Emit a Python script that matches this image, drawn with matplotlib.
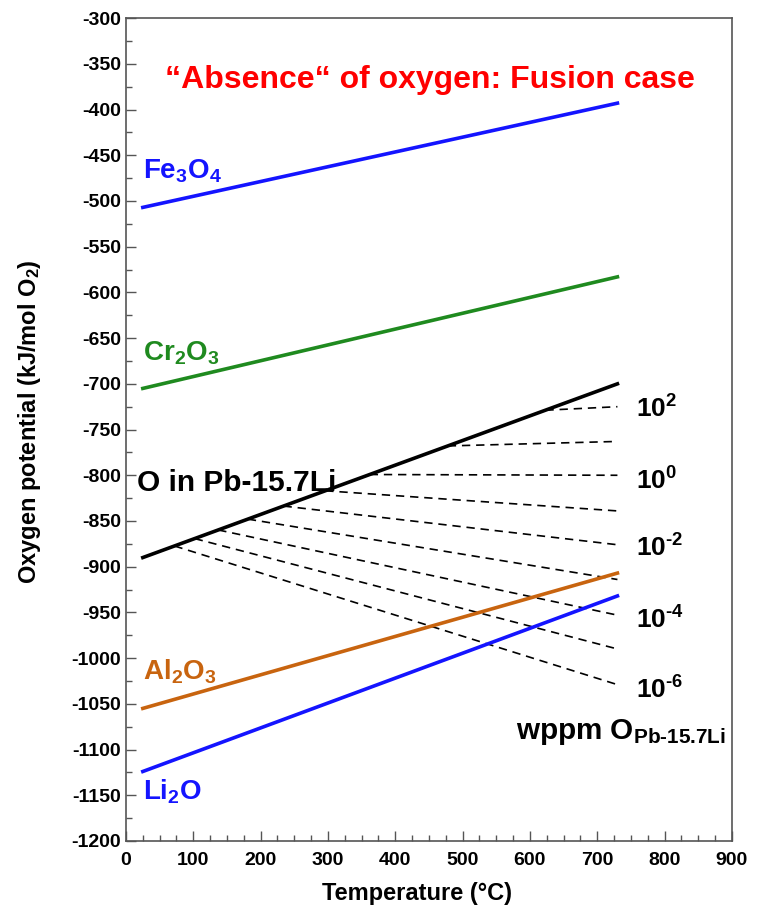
import numpy as np
import matplotlib
matplotlib.use("Agg")
import matplotlib.pyplot as plt
from matplotlib.ticker import MultipleLocator

plt.rcParams['font.family'] = ['Liberation Sans', 'DejaVu Sans']
plt.rcParams['font.weight'] = 'bold'
plt.rcParams['mathtext.fontset'] = 'custom'
plt.rcParams['mathtext.rm'] = 'Liberation Sans:bold'
plt.rcParams['mathtext.default'] = 'rm'
plt.rcParams['axes.unicode_minus'] = False

# oxide lines (temperature in C, oxygen potential in kJ/mol O2)
fe3o4_T = [25, 730]
fe3o4_mu = [-507, -393]
cr2o3_T = [25, 730]
cr2o3_mu = [-705, -583]
pbli_T = [25, 730]
pbli_mu = [-890, -700]
al2o3_T = [25, 730]
al2o3_mu = [-1055, -907]
li2o_T = [25, 730]
li2o_mu = [-1124, -932]

# iso-concentration lines: start on the Pb-15.7Li line, end at 730 C
iso_start_T = [623, 478, 362, 296, 234, 181, 137, 102, 72]
iso_end_mu = [-725, -763, -800, -839, -876, -914, -953, -990, -1029]
iso_end_T = 730
iso_labels = ['10$^{2}$', '10$^{0}$', '10$^{\\text{-2}}$', '10$^{\\text{-4}}$', '10$^{\\text{-6}}$']
iso_label_y = [-728, -806, -880, -958, -1035]

blue = '#1414ff'
green = '#1f8a1f'
orange = '#c8640f'

fig = plt.figure(figsize=(7.65, 9.07), dpi=100)
ax = fig.add_axes([0.1647, 0.0728, 0.792, 0.9072])

for s, e in zip(iso_start_T, iso_end_mu):
    s_mu = np.interp(s, pbli_T, pbli_mu)
    ax.plot([s, iso_end_T], [s_mu, e], color='black', lw=1.2, ls=(0, (5, 3.5)))

ax.plot(fe3o4_T, fe3o4_mu, color=blue, lw=2.6)
ax.plot(cr2o3_T, cr2o3_mu, color=green, lw=2.6)
ax.plot(pbli_T, pbli_mu, color='black', lw=2.6)
ax.plot(al2o3_T, al2o3_mu, color=orange, lw=2.6)
ax.plot(li2o_T, li2o_mu, color=blue, lw=2.6)

ax.set_xlim(0, 900)
ax.set_ylim(-1200, -300)
ax.xaxis.set_major_locator(MultipleLocator(100))
ax.xaxis.set_minor_locator(MultipleLocator(25))
ax.yaxis.set_major_locator(MultipleLocator(50))
ax.yaxis.set_minor_locator(MultipleLocator(25))
ax.tick_params(which='both', direction='in', top=False, right=False, labelsize=14, color='#555555')
ax.tick_params(which='major', length=7, width=1)
ax.tick_params(which='minor', length=4, width=1)
ax.tick_params(axis='x', pad=8)
for sp in ax.spines.values():
    sp.set_color('#555555')
    sp.set_linewidth(1.2)
for lab in ax.get_xticklabels() + ax.get_yticklabels():
    lab.set_fontweight('bold')

ax.set_xlabel('Temperature (°C)', fontsize=17, fontweight='bold')
ax.set_ylabel('Oxygen potential (kJ/mol O$_{2}$)', fontsize=17, fontweight='bold')
ax.xaxis.set_label_coords(0.48, -0.05)
ax.yaxis.set_label_coords(-0.137, 0.509)

fs = 20
ax.text(25, -468, 'Fe$_{3}$O$_{4}$', color=blue, fontsize=fs, fontweight='bold', va='center')
ax.text(25, -666, 'Cr$_{2}$O$_{3}$', color=green, fontsize=fs, fontweight='bold', va='center')
ax.text(16, -808, 'O in Pb-15.7Li', color='black', fontsize=21.5, fontweight='bold', va='center')
ax.text(25, -1015, 'Al$_{2}$O$_{3}$', color=orange, fontsize=fs, fontweight='bold', va='center')
ax.text(25, -1146, 'Li$_{2}$O', color=blue, fontsize=fs, fontweight='bold', va='center')

for t, y in zip(iso_labels, iso_label_y):
    ax.text(757, y, t, color='black', fontsize=19, fontweight='bold', va='center', ha='left')
ax.text(580, -1081, 'wppm O$_{\\text{Pb-15.7Li}}$', fontsize=21.3, fontweight='bold', va='center', ha='left')

ax.text(452, -368, '\u201cAbsence\u201c of oxygen: Fusion case', color='#ff0000', fontsize=23,
        fontweight='bold', va='center', ha='center')

fig.savefig('out.png', dpi=100)
